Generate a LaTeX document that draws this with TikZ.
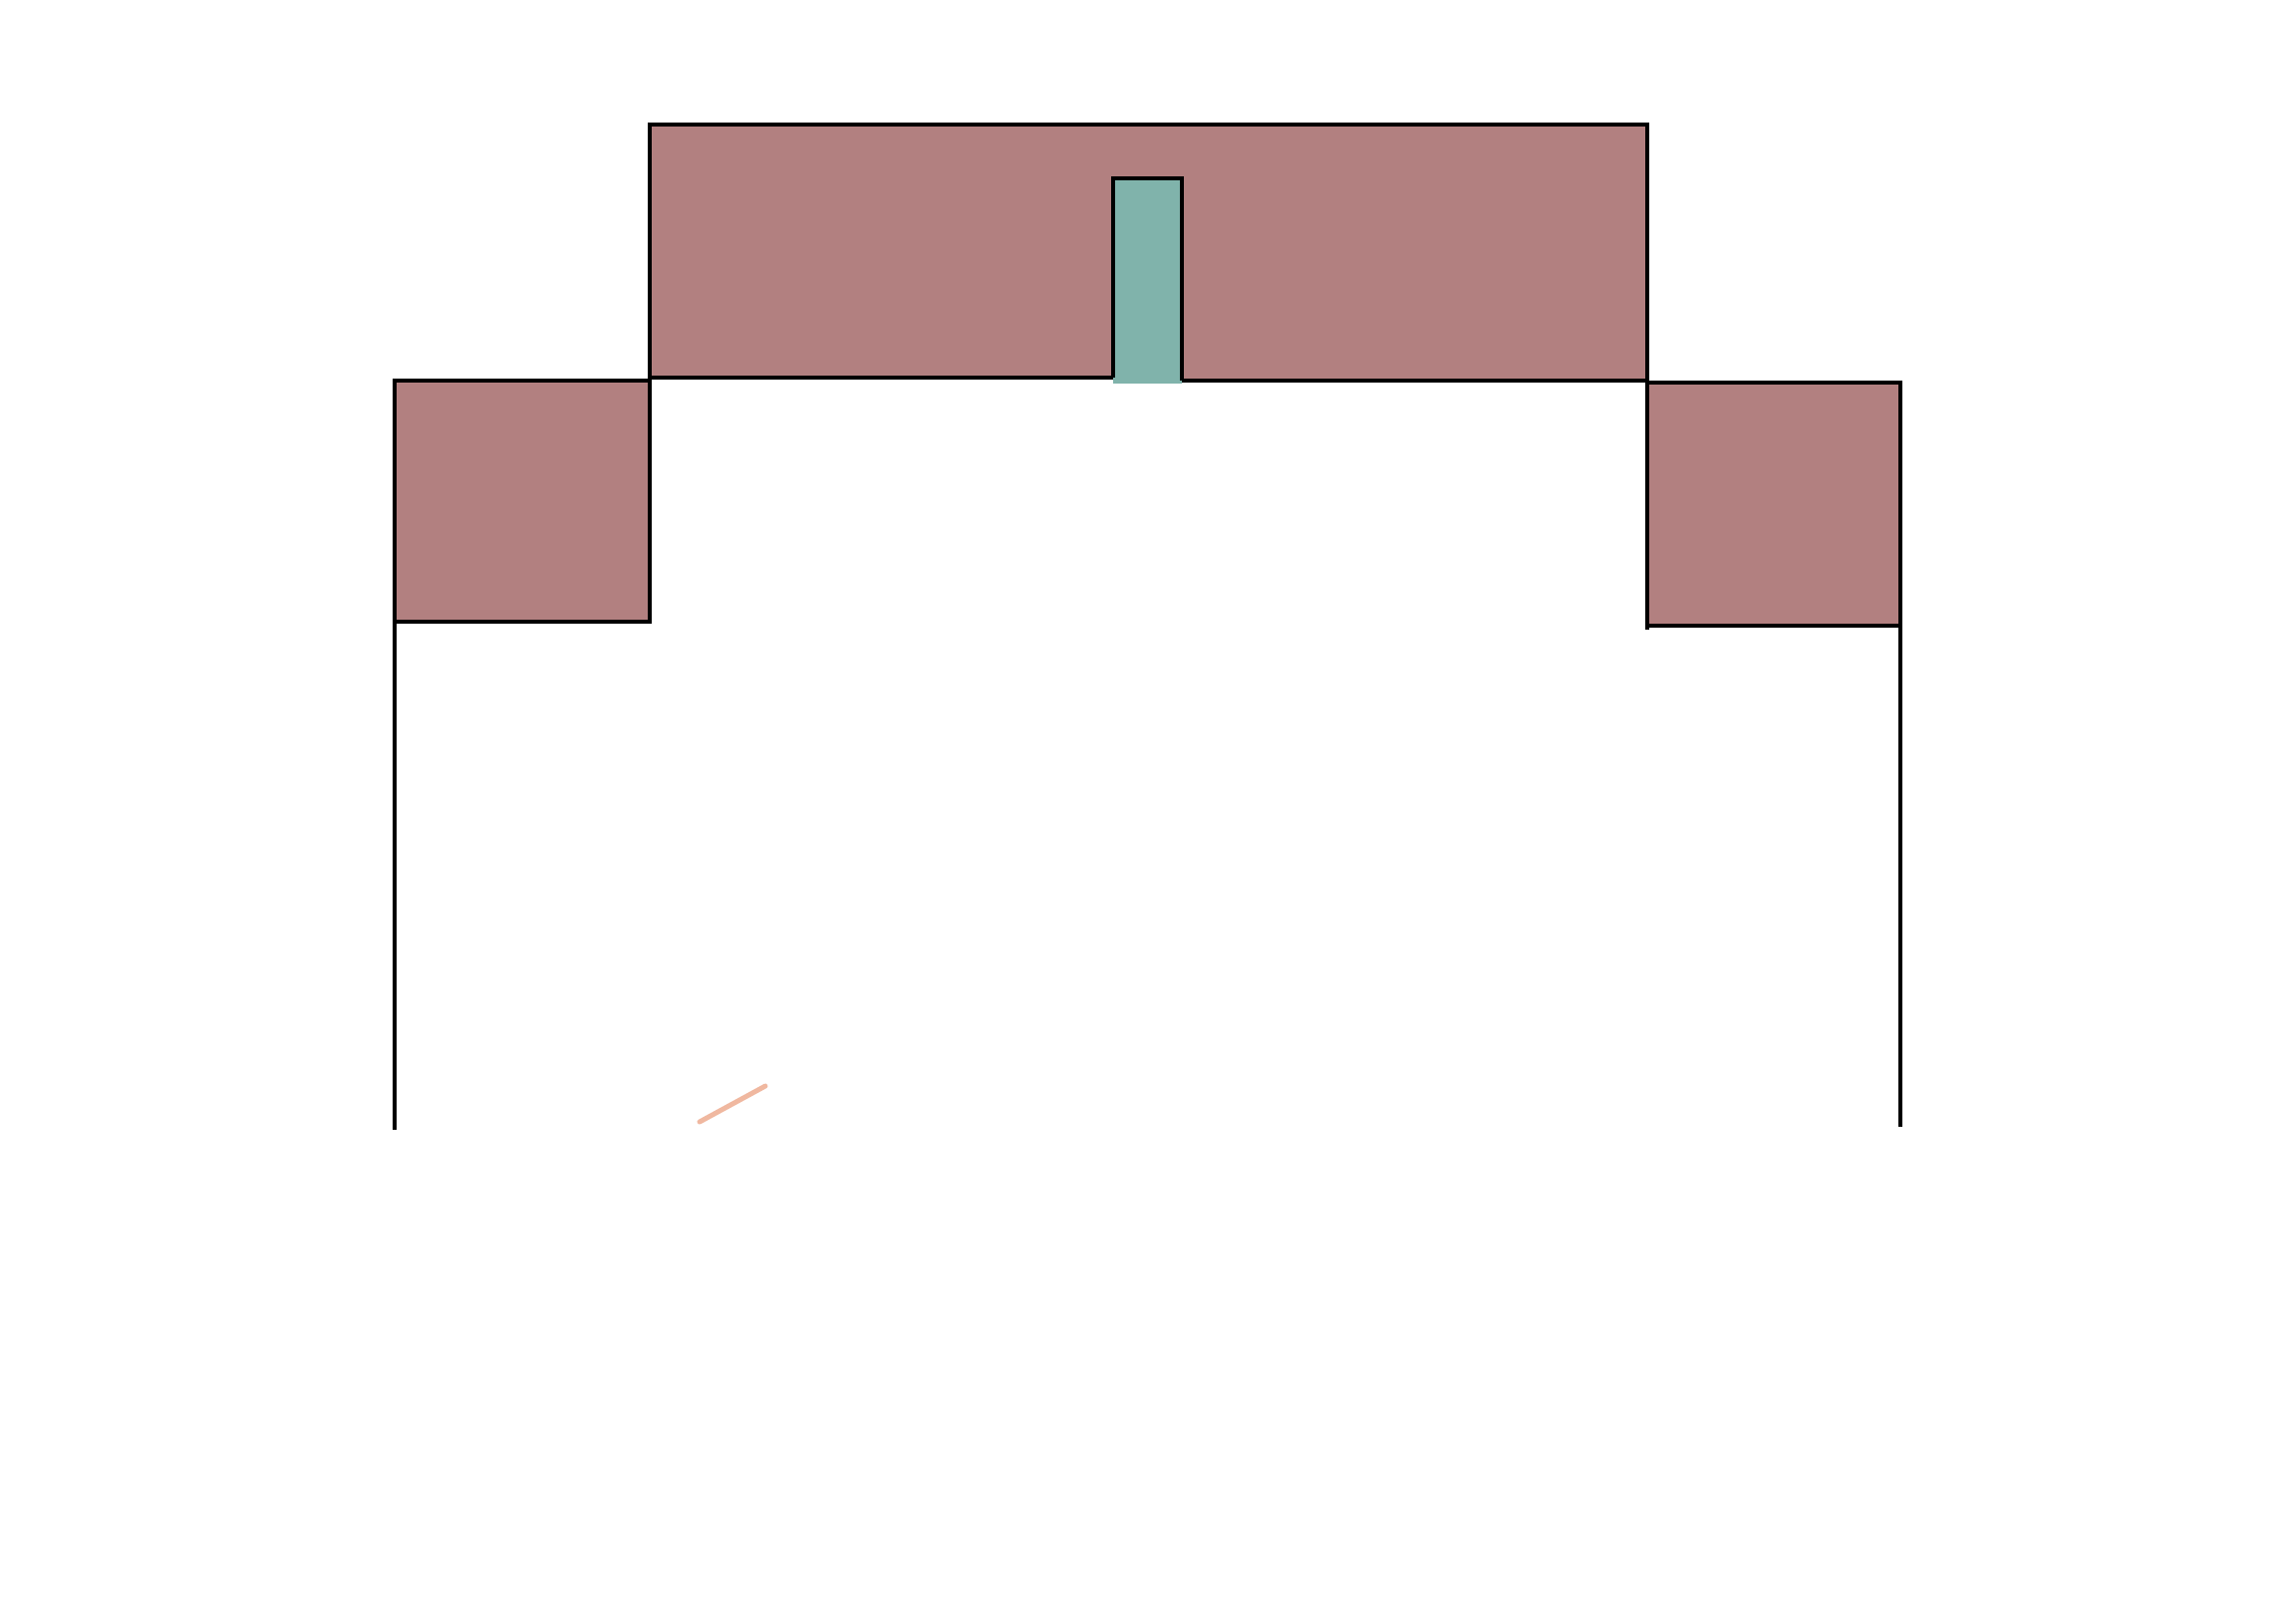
\documentclass[tikz,border=0pt]{standalone}
\usepackage{tikz}
\usepackage{xcolor}

\definecolor{mauve}{RGB}{178,128,128}
\definecolor{teal}{RGB}{128,179,171}
\definecolor{chalk}{RGB}{240,184,160}
\tikzset{
  edge/.style={black, line width=1pt},
  block/.style={fill=mauve},
}

\begin{document}
\begin{tikzpicture}[x=0.01cm,y=-0.01cm]
\useasboundingbox (0,0) rectangle (2304,1620);
\fill[white] (0,0) rectangle (2304,1620);
% blocks
\fill[block] (652,125) rectangle (1653,381);
\fill[block] (396,382) rectangle (652,624);
\fill[block] (1653,384) rectangle (1908,628);
\fill[teal] (1117,179) rectangle (1186,385);
% top block
\draw[edge] (1117,379) -- (652,379) -- (652,125) -- (1653,125) -- (1653,382) -- (1186,382);
\draw[edge] (1117,379) -- (1117,179) -- (1186,179) -- (1186,382);
% left block and wall
\draw[edge] (652,379) -- (652,624) -- (396,624);
\draw[edge] (652,382) -- (396,382) -- (396,1134);
% right block and wall
\draw[edge] (1653,382) -- (1653,632);
\draw[edge] (1653,384) -- (1907,384) -- (1907,1131);
\draw[edge] (1653,628) -- (1907,628);
% stray stroke
\draw[chalk, line width=1.4pt, line cap=round] (702,1126) -- (768,1090);
\end{tikzpicture}
\end{document}
